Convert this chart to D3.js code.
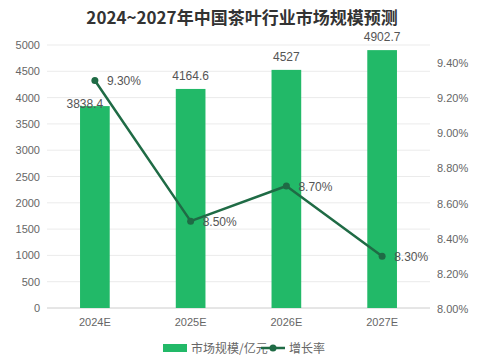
<!DOCTYPE html>
<html><head><meta charset="utf-8">
<script src="https://cdn.jsdelivr.net/npm/d3@7"></script>
<style>body{margin:0;background:#fff;}svg{display:block;font-family:"Noto Sans CJK SC","Liberation Sans",sans-serif;}</style>
</head><body>
<svg id="c" width="489" height="362"></svg>
<script>
const title = "2024~2027年中国茶叶行业市场规模预测";
const categories = ["2024E","2025E","2026E","2027E"];
const marketSize = [3838.4, 4164.6, 4527, 4902.7];
const growthRate = [9.30, 8.50, 8.70, 8.30];
const leftTicks = [0,500,1000,1500,2000,2500,3000,3500,4000,4500,5000];
const rightTicks = [8.0,8.2,8.4,8.6,8.8,9.0,9.2,9.4];
const legendNames = ["市场规模/亿元","增长率"];

const svg = d3.select("#c");
const barColor = "#22b968", lineColor = "#1f6b45";
const x = d3.scaleBand().domain(categories).range([47,430]).paddingInner(0.69).paddingOuter(0.345);
const yL = d3.scaleLinear().domain([0,5000]).range([308,45]);
const yR = d3.scaleLinear().domain([8.0,9.4]).range([309,63]);
const cx = d => x(d) + x.bandwidth()/2;

svg.append("text").attr("x",242).attr("y",24).attr("text-anchor","middle")
  .attr("font-size",17).attr("font-weight","bold").attr("fill","#333").text(title);

// gridlines
svg.append("g").selectAll("line").data(leftTicks).join("line")
  .attr("x1",47).attr("x2",430).attr("y1",d=>yL(d)).attr("y2",d=>yL(d))
  .attr("stroke",d=>d===0?"#ccc":"#ebebeb").attr("stroke-width",1);

// left axis
const gl = svg.append("g").attr("transform","translate(47,0)")
  .call(d3.axisLeft(yL).tickValues(leftTicks).tickSize(0).tickPadding(7).tickFormat(d3.format("d")));
gl.select(".domain").remove();
gl.selectAll("text").attr("font-size",11).attr("fill","#666").attr("font-family","Liberation Sans, Arial, sans-serif");

// right axis
const gr = svg.append("g").attr("transform","translate(430,0)")
  .call(d3.axisRight(yR).tickValues(rightTicks).tickSize(0).tickPadding(7).tickFormat(d=>d.toFixed(2)+"%"));
gr.select(".domain").remove();
gr.selectAll("text").attr("font-size",11).attr("fill","#666").attr("font-family","Liberation Sans, Arial, sans-serif");

// x axis
const gx = svg.append("g").attr("transform","translate(0,308)")
  .call(d3.axisBottom(x).tickSize(0).tickPadding(10));
gx.select(".domain").remove();
gx.selectAll("text").attr("font-size",11).attr("fill","#666").attr("font-family","Liberation Sans, Arial, sans-serif");

// bars
svg.append("g").selectAll("rect").data(marketSize).join("rect")
  .attr("x",(d,i)=>x(categories[i])).attr("width",x.bandwidth())
  .attr("y",d=>yL(d)).attr("height",d=>yL(0)-yL(d)).attr("fill",barColor);

// bar labels
svg.append("g").selectAll("text").data(marketSize).join("text")
  .attr("x",(d,i)=>cx(categories[i]) - (i===0?10:0))
  .attr("y",(d,i)=>yL(d) - (i===0?-2:9))
  .attr("text-anchor","middle").attr("font-size",12).attr("fill","#555")
  .attr("font-family","Liberation Sans, Arial, sans-serif")
  .text(d=>d);

// line
const line = d3.line().x((d,i)=>cx(categories[i])).y(d=>yR(d));
svg.append("path").datum(growthRate).attr("d",line).attr("fill","none")
  .attr("stroke",lineColor).attr("stroke-width",2.5).attr("stroke-linejoin","round");
svg.append("g").selectAll("circle").data(growthRate).join("circle")
  .attr("cx",(d,i)=>cx(categories[i])).attr("cy",d=>yR(d)).attr("r",3.5).attr("fill",lineColor);
svg.append("g").selectAll("text").data(growthRate).join("text")
  .attr("x",(d,i)=>cx(categories[i])+12).attr("y",d=>yR(d)+4.5)
  .attr("font-size",12).attr("fill","#555")
  .attr("font-family","Liberation Sans, Arial, sans-serif")
  .text(d=>d.toFixed(2)+"%");

// legend
const lg = svg.append("g");
lg.append("rect").attr("x",163).attr("y",344).attr("width",24).attr("height",8).attr("fill",barColor);
lg.append("text").attr("x",191).attr("y",352.5).attr("font-size",12).attr("fill","#666").text(legendNames[0]);
lg.append("line").attr("x1",261).attr("x2",285).attr("y1",348).attr("y2",348).attr("stroke",lineColor).attr("stroke-width",2.5);
lg.append("circle").attr("cx",273).attr("cy",348).attr("r",3.5).attr("fill",lineColor);
lg.append("text").attr("x",289).attr("y",352.5).attr("font-size",12).attr("fill","#666").text(legendNames[1]);
</script>
</body></html>
